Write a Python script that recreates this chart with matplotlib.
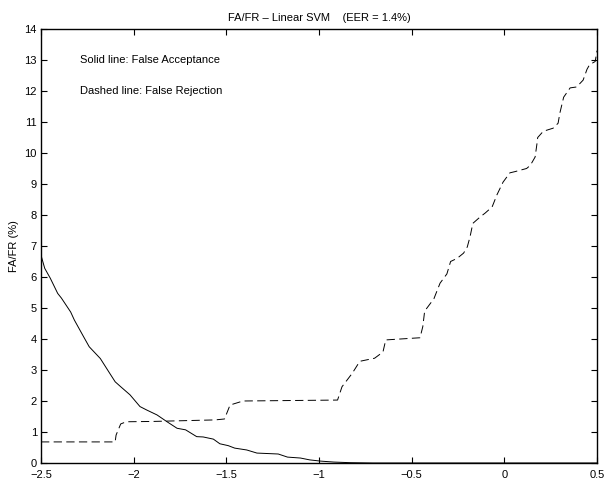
import matplotlib
matplotlib.use("Agg")
import matplotlib.pyplot as plt

# threshold axis
FA_X = [-2.5, -2.48, -2.45, -2.41, -2.39, -2.34, -2.32, -2.27, -2.24, -2.18,
        -2.13, -2.10, -2.07, -2.02, -1.966, -1.93, -1.874, -1.82, -1.766, -1.72,
        -1.66, -1.625, -1.57, -1.535, -1.49, -1.455, -1.39, -1.335, -1.22, -1.17,
        -1.10, -1.05, -0.99, -0.92, -0.83, -0.71, 0.5]
FA_Y = [6.7, 6.28, 5.96, 5.47, 5.32, 4.87, 4.61, 4.07, 3.75, 3.37,
        2.9, 2.62, 2.46, 2.2, 1.82, 1.71, 1.55, 1.33, 1.12, 1.07,
        0.85, 0.84, 0.77, 0.62, 0.56, 0.48, 0.42, 0.32, 0.29, 0.19,
        0.16, 0.1, 0.06, 0.03, 0.01, 0.0, 0.0]

FR_X = [-2.5, -2.10, -2.095, -2.07, -2.04, -1.9, -1.56, -1.51, -1.48, -1.41,
        -0.90, -0.876, -0.82, -0.78, -0.70, -0.655, -0.64, -0.455, -0.44, -0.43,
        -0.38, -0.347, -0.31, -0.29, -0.255, -0.22, -0.20, -0.185, -0.17, -0.13,
        -0.104, -0.066, -0.04, -0.007, 0.03, 0.058, 0.12, 0.14, 0.166, 0.176,
        0.18, 0.21, 0.263, 0.29, 0.30, 0.32, 0.355, 0.39, 0.425, 0.446,
        0.46, 0.49, 0.5]
FR_Y = [0.68, 0.68, 0.9, 1.26, 1.33, 1.34, 1.39, 1.42, 1.87, 2.0,
        2.03, 2.46, 2.9, 3.28, 3.38, 3.58, 3.97, 4.04, 4.4, 4.9,
        5.3, 5.8, 6.1, 6.5, 6.6, 6.77, 6.97, 7.3, 7.73, 7.94,
        8.06, 8.26, 8.65, 9.06, 9.36, 9.4, 9.5, 9.6, 9.87, 10.3,
        10.5, 10.7, 10.8, 10.96, 11.3, 11.8, 12.1, 12.13, 12.35, 12.7,
        12.85, 12.95, 13.3]

X_TICKS = [-2.5, -2, -1.5, -1, -0.5, 0, 0.5]
X_TICK_LABELS = ["\u22122.5", "\u22122", "\u22121.5", "\u22121", "\u22120.5", "0", "0.5"]
Y_TICKS = list(range(0, 15))

plt.rcParams["font.family"] = ["Liberation Sans", "DejaVu Sans"]
plt.rcParams["font.size"] = 8

fig = plt.figure(figsize=(6.05, 4.84), dpi=100)
ax = fig.add_axes([0.0678, 0.0434, 0.919, 0.8967])

ax.plot(FA_X, FA_Y, color="black", linewidth=0.7)
line, = ax.plot(FR_X, FR_Y, color="black", linewidth=0.7)
line.set_dashes([8.5, 4.5])

ax.set_xlim(-2.5, 0.5)
ax.set_ylim(0, 14)
ax.set_xticks(X_TICKS)
ax.set_xticklabels(X_TICK_LABELS)
ax.set_yticks(Y_TICKS)
ax.tick_params(direction="in", length=4, width=0.8, top=True, right=True)
ax.tick_params(axis="x", pad=5)
ax.tick_params(axis="y", pad=3)
for s in ax.spines.values():
    s.set_linewidth(1.0)

ax.text(-2.29, 13, "Solid line: False Acceptance", va="center", ha="left")
ax.text(-2.29, 12, "Dashed line: False Rejection", va="center", ha="left")

ax.set_ylabel("FA/FR (%)", labelpad=4)
ax.set_title("FA/FR \u2013 Linear SVM    (EER = 1.4%)", fontsize=8, pad=6)

fig.savefig("out.png", dpi=100)
